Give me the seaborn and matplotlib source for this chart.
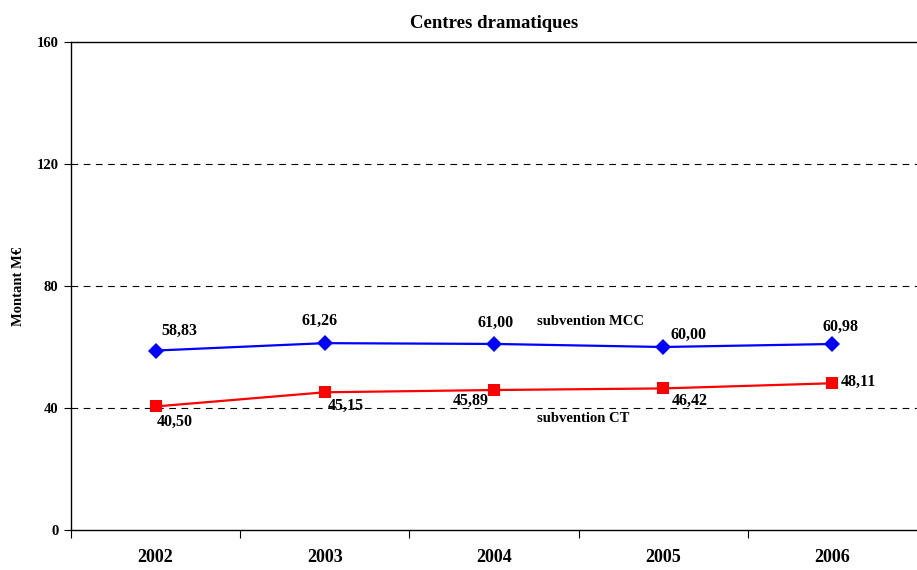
import pandas as pd
import matplotlib.pyplot as plt
import seaborn as sns
from matplotlib.ticker import FixedLocator

# Data
years = ['2002', '2003', '2004', '2005', '2006']
mcc_values = [58.83, 61.26, 61.00, 60.00, 60.98]
ct_values = [40.50, 45.15, 45.89, 46.42, 48.11]
mcc_labels = ['58,83', '61,26', '61,00', '60,00', '60,98']
ct_labels = ['40,50', '45,15', '45,89', '46,42', '48,11']
y_ticks = [0, 40, 80, 120, 160]

df = pd.DataFrame({
    'year': years * 2,
    'value': mcc_values + ct_values,
    'serie': ['subvention MCC'] * len(years) + ['subvention CT'] * len(years),
})

sns.set_style('white')
plt.rcParams['font.family'] = ['Liberation Serif', 'DejaVu Serif']
plt.rcParams['font.weight'] = 'bold'
plt.rcParams['text.color'] = 'black'
plt.rcParams['axes.labelcolor'] = 'black'
plt.rcParams['xtick.color'] = 'black'
plt.rcParams['ytick.color'] = 'black'

fig = plt.figure(figsize=(9.17, 5.7), dpi=100)
ax = fig.add_axes([0.0774, 0.0702, 0.9226, 0.8561])

sns.lineplot(data=df, x='year', y='value', hue='serie', style='serie',
             palette={'subvention MCC': '#0000ff', 'subvention CT': '#ff0000'},
             markers={'subvention MCC': 'D', 'subvention CT': 's'},
             dashes=False, markersize=8, linewidth=1.6, markeredgewidth=0,
             legend=False, ax=ax)

ax.set_xlim(-0.5, len(years) - 0.5)
ax.set_ylim(0, 160)
ax.set_yticks(y_ticks)
ax.set_yticklabels([str(t) for t in y_ticks], fontsize=10.5, fontweight='bold')
ax.tick_params(axis='y', direction='out', length=5, width=0.8, color='black', pad=4, left=True)

# years centred, tick marks between categories
ax.set_xticks(range(len(years)))
ax.set_xticklabels(years, fontsize=13, fontweight='bold')
ax.tick_params(axis='x', which='major', length=0, pad=14)
ax.xaxis.set_minor_locator(FixedLocator([i - 0.5 for i in range(len(years))]))
ax.tick_params(axis='x', which='minor', direction='out', length=6, width=0.8, color='black', bottom=True)

for y in y_ticks[1:-1]:
    ax.axhline(y, color='black', linestyle=(0, (6, 5)), linewidth=0.8, zorder=0)

for side in ['left', 'bottom', 'top']:
    ax.spines[side].set_color('black')
    ax.spines[side].set_linewidth(1.0)
ax.spines['right'].set_visible(False)

ax.set_xlabel('')
ax.set_ylabel('Montant M€', fontsize=10.5, fontweight='bold', labelpad=8)
ax.set_title('Centres dramatiques', fontsize=13.5, fontweight='bold', pad=10)

# value labels (offsets in points)
mcc_offsets = [(4, 14, 'left'), (-4, 16, 'center'), (1, 15, 'center'), (5, 9, 'left'), (6, 12, 'center')]
ct_offsets = [(1, -11, 'left'), (2, -10, 'left'), (-4, -8, 'right'), (6, -9, 'left'), (6, 1, 'left')]
for i in range(len(years)):
    dx, dy, ha = mcc_offsets[i]
    ax.annotate(mcc_labels[i], (i, mcc_values[i]), xytext=(dx, dy), textcoords='offset points',
                ha=ha, va='center', fontsize=11.5, fontweight='bold')
    dx, dy, ha = ct_offsets[i]
    ax.annotate(ct_labels[i], (i, ct_values[i]), xytext=(dx, dy), textcoords='offset points',
                ha=ha, va='center', fontsize=11.5, fontweight='bold')

ax.text(2.254, 68.2, 'subvention MCC', fontsize=10.5, fontweight='bold', va='center', ha='left')
ax.text(2.254, 36.7, 'subvention CT', fontsize=10.5, fontweight='bold', va='center', ha='left')

fig.savefig('out.png', dpi=100)
